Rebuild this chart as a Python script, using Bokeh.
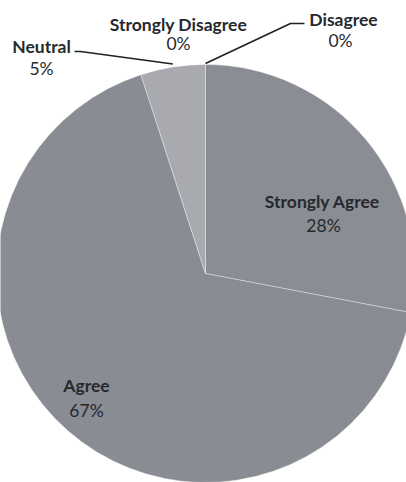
import math
from bokeh.plotting import figure
from bokeh.models import Range1d, ColumnDataSource
from bokeh.core.properties import value
from bokeh.embed import file_html
from bokeh.resources import INLINE

# ---- data ----
categories = ["Strongly Agree", "Agree", "Neutral", "Strongly Disagree", "Disagree"]
percents = [28, 67, 5, 0, 0]
pct_labels = ["28%", "67%", "5%", "0%", "0%"]
colors = ["#8b8d95", "#8a8c94", "#a8aaaf", "#b0b2b6", "#b0b2b6"]

# ---- layout (pixel-like coordinates, y measured from the bottom) ----
W, H = 406, 482
cx, cy, R = 205, H - 273, 209

total = float(sum(percents))
starts, ends = [], []
cum = 0.0
for v in percents:
    a0 = math.pi / 2 - 2 * math.pi * cum / total
    cum += v
    a1 = math.pi / 2 - 2 * math.pi * cum / total
    starts.append(a0)
    ends.append(a1)

keep = [i for i, v in enumerate(percents) if v > 0]
src = ColumnDataSource(dict(cat=[categories[i] for i in keep],
                            start=[starts[i] for i in keep],
                            end=[ends[i] for i in keep],
                            color=[colors[i] for i in keep]))

p = figure(width=W, height=H, output_backend="svg", toolbar_location=None,
           x_range=Range1d(0, W), y_range=Range1d(0, H), min_border=0)
p.axis.visible = False
p.grid.visible = False
p.outline_line_color = None
p.background_fill_color = "white"
p.border_fill_color = "white"

p.wedge(x=cx, y=cy, radius=R, start_angle="start", end_angle="end", direction="clock",
        fill_color="color", line_color="white", line_alpha=0.35, line_width=1, source=src)

# label anchors (image offsets from pie centre) – layout only
label_pos = {
    "Strongly Agree": (117, -72, 118, -48),
    "Agree": (-119, 112, -119, 137),
    "Neutral": (-164, -227, -164, -205),
    "Strongly Disagree": (-27, -249, -27, -230),
    "Disagree": (138, -254, 135, -233),
}
tx, ty, px_, py_ = [], [], [], []
for c in categories:
    a, b, d, e = label_pos[c]
    tx.append(cx + a); ty.append(cy - b)
    px_.append(cx + d); py_.append(cy - e)

font = value("Lato")
p.text(x=tx, y=ty, text=categories, text_font=font, text_font_size="17.5px",
       text_font_style="bold", text_color="#25292d", text_align="center", text_baseline="middle")
p.text(x=px_, y=py_, text=pct_labels, text_font=font, text_font_size="17.5px",
       text_color="#25292d", text_align="center", text_baseline="middle")

# leader lines: from label to slice edge at the slice's mid angle
def edge_point(i):
    mid = (starts[i] + ends[i]) / 2
    return cx + R * math.cos(mid), cy + R * math.sin(mid)

i_neu = categories.index("Neutral")
ex, ey = edge_point(i_neu)
p.line(x=[cx - 131, cx - 125, ex], y=[cy + 222, cy + 222, ey + 3], line_color="#1e2226", line_width=1.6)

i_dis = categories.index("Disagree")
ex, ey = edge_point(i_dis)
p.line(x=[ex, cx + 85, cx + 99], y=[ey + 1, cy + 250, cy + 250], line_color="#1e2226", line_width=1.6)

open("out.html", "w").write(file_html(p, INLINE))
